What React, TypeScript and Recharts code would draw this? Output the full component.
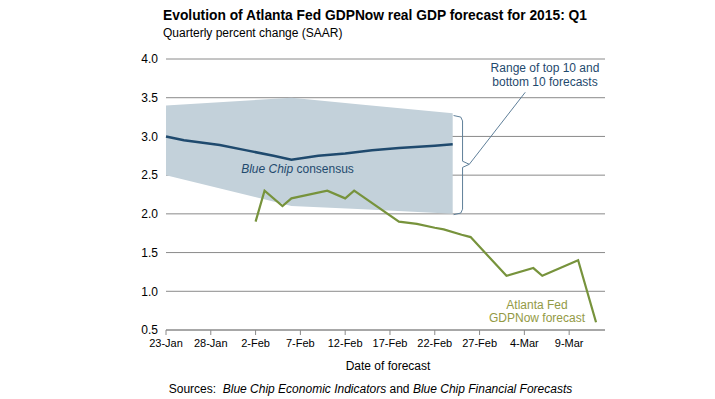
import React from "react";
import {
  ComposedChart,
  Area,
  Line,
  XAxis,
  YAxis,
  CartesianGrid,
  ReferenceLine,
} from "recharts";

// x positions are days since 23-Jan (2015)
const tickLabels = ["23-Jan", "28-Jan", "2-Feb", "7-Feb", "12-Feb", "17-Feb", "22-Feb", "27-Feb", "4-Mar", "9-Mar"];
const yTicks = [0.5, 1.0, 1.5, 2.0, 2.5, 3.0, 3.5, 4.0];

const bandDates = ["23-Jan", "6-Feb", "14-Feb", "24-Feb"];
const bandHigh = [3.4, 3.5, 3.41, 3.3];
const bandLow = [2.5, 2.1, 2.06, 2.0];

const consensusDates = ["23-Jan", "25-Jan", "29-Jan", "1-Feb", "4-Feb", "6-Feb", "9-Feb", "12-Feb", "15-Feb", "18-Feb", "22-Feb", "24-Feb"];
const consensusValues = [3.0, 2.95, 2.89, 2.82, 2.75, 2.7, 2.75, 2.78, 2.82, 2.85, 2.88, 2.9];

const gdpNowDates = ["2-Feb", "3-Feb", "5-Feb", "6-Feb", "10-Feb", "12-Feb", "13-Feb", "18-Feb", "20-Feb", "22-Feb", "23-Feb", "25-Feb", "26-Feb", "2-Mar", "5-Mar", "6-Mar", "10-Mar", "12-Mar"];
const gdpNowValues = [1.9, 2.3, 2.1, 2.2, 2.3, 2.2, 2.3, 1.9, 1.87, 1.82, 1.8, 1.73, 1.7, 1.2, 1.3, 1.2, 1.4, 0.6];

// brace + leader line next to the shaded range (x in days, y in percent)
const braceSegments = [
  [{ x: 32.1, y: 3.27 }, { x: 32.9, y: 3.25 }],
  [{ x: 32.9, y: 3.25 }, { x: 33.1, y: 3.2 }],
  [{ x: 33.1, y: 3.2 }, { x: 33.1, y: 2.68 }],
  [{ x: 33.1, y: 2.68 }, { x: 33.85, y: 2.64 }],
  [{ x: 33.85, y: 2.64 }, { x: 33.1, y: 2.6 }],
  [{ x: 33.1, y: 2.6 }, { x: 33.1, y: 2.06 }],
  [{ x: 33.1, y: 2.06 }, { x: 32.9, y: 2.01 }],
  [{ x: 32.9, y: 2.01 }, { x: 32.1, y: 1.99 }],
  [{ x: 33.85, y: 2.64 }, { x: 40.1, y: 3.57 }],
];

const monthStart: Record<string, number> = { Jan: -23, Feb: 8, Mar: 36 };
function toDay(label: string): number {
  const [d, m] = label.split("-");
  return monthStart[m] + Number(d);
}

const bandData = bandDates.map((d, i) => ({ day: toDay(d), range: [bandLow[i], bandHigh[i]] }));
const consensusData = consensusDates.map((d, i) => ({ day: toDay(d), value: consensusValues[i] }));
const gdpNowData = gdpNowDates.map((d, i) => ({ day: toDay(d), value: gdpNowValues[i] }));
const xTicks = tickLabels.map(toDay);

const font = '"Liberation Sans", Arial, sans-serif';

const txt = (style: React.CSSProperties): React.CSSProperties => ({
  position: "absolute",
  fontFamily: font,
  fontSize: 12,
  lineHeight: "12px",
  whiteSpace: "nowrap",
  ...style,
});

export default function App() {
  return (
    <div style={{ position: "absolute", left: 0, top: 0, width: 715, height: 399, background: "#fff" }}>
      <ComposedChart
        width={715}
        height={399}
        margin={{ top: 59, right: 110, bottom: 39, left: 126 }}
      >
        <Area
          data={bandData}
          dataKey="range"
          type="linear"
          stroke="none"
          fill="#C3D1DA"
          fillOpacity={1}
          isAnimationActive={false}
        />
        <CartesianGrid horizontal vertical={false} stroke="#8A8A8A" strokeWidth={1} />
        <XAxis
          dataKey="day"
          type="number"
          domain={[0, 49]}
          ticks={xTicks}
          tickFormatter={(v: number) => tickLabels[xTicks.indexOf(v)] ?? ""}
          interval={0}
          height={30}
          tick={{ fill: "#000", fontSize: 11, fontFamily: font }}
          tickSize={5}
          tickMargin={4}
          axisLine={{ stroke: "#8A8A8A" }}
          tickLine={{ stroke: "#8A8A8A" }}
        />
        <YAxis
          type="number"
          domain={[0.5, 4]}
          ticks={yTicks}
          tickFormatter={(v: number) => v.toFixed(1)}
          interval={0}
          width={40}
          tick={{ fill: "#000", fontSize: 12, fontFamily: font }}
          axisLine={false}
          tickLine={false}
        />
        {braceSegments.map((seg, i) => (
          <ReferenceLine key={i} segment={seg} stroke="#5F7F99" strokeWidth={1} ifOverflow="visible" />
        ))}
        <Line
          data={consensusData}
          dataKey="value"
          type="linear"
          stroke="#1F4A6E"
          strokeWidth={2.5}
          dot={false}
          isAnimationActive={false}
        />
        <Line
          data={gdpNowData}
          dataKey="value"
          type="linear"
          stroke="#77933C"
          strokeWidth={2.2}
          dot={false}
          isAnimationActive={false}
        />
      </ComposedChart>

      <div style={txt({ left: 163, top: 9, fontSize: 13.8, lineHeight: "14px", fontWeight: "bold", color: "#000" })}>
        Evolution of Atlanta Fed GDPNow real GDP forecast for 2015: Q1
      </div>
      <div style={txt({ left: 163, top: 26.5, color: "#000" })}>Quarterly percent change (SAAR)</div>

      <div style={txt({ left: 297.5, top: 163, transform: "translateX(-50%)", color: "#1F4A6E" })}>
        <i>Blue Chip</i> consensus
      </div>
      <div style={txt({ left: 545, top: 60.5, transform: "translateX(-50%)", color: "#1F4A6E", lineHeight: "14.3px", textAlign: "center" })}>
        Range of top 10 and
        <br />
        bottom 10 forecasts
      </div>
      <div style={txt({ left: 537, top: 299, transform: "translateX(-50%)", color: "#939A45", lineHeight: "13.4px", textAlign: "center" })}>
        Atlanta Fed
        <br />
        GDPNow forecast
      </div>

      <div style={txt({ left: 388, top: 360, transform: "translateX(-50%)", color: "#000" })}>Date of forecast</div>
      <div style={txt({ left: 370.5, top: 383, transform: "translateX(-50%)", color: "#000" })}>
        Sources:&nbsp; <i>Blue Chip Economic Indicators</i> and <i>Blue Chip Financial Forecasts</i>
      </div>
    </div>
  );
}
